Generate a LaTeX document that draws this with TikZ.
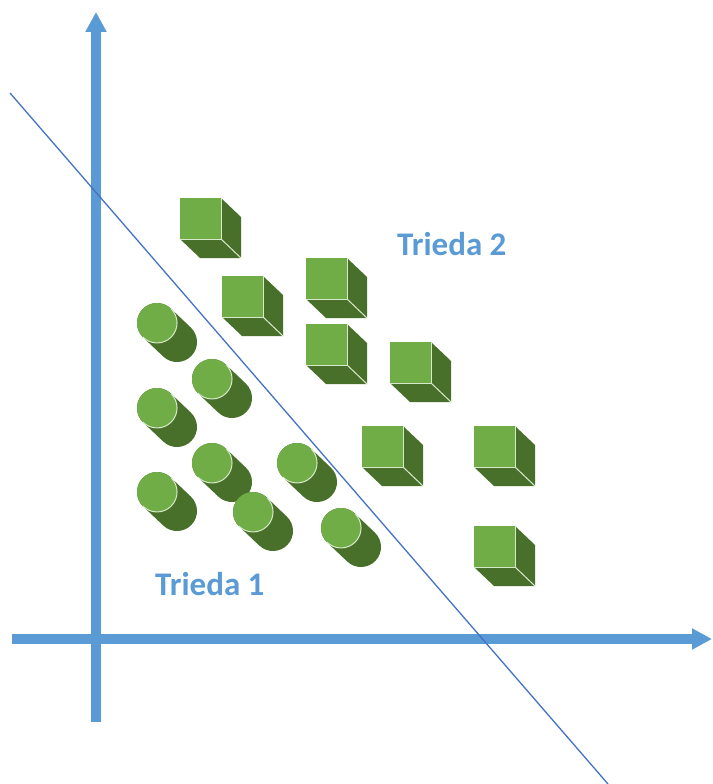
\documentclass[tikz,border=0pt]{standalone}
\usepackage{fontspec}
\setmainfont{Carlito}
\usetikzlibrary{arrows.meta}
\definecolor{axisblue}{HTML}{5B9BD5}
\definecolor{lineblue}{HTML}{4472C4}
\definecolor{lightgreen}{HTML}{70AD47}
\definecolor{darkgreen}{HTML}{49702A}
\definecolor{edgegreen}{HTML}{D8E8CC}
\tikzset{
  axis/.style={draw=axisblue, line width=10pt, -{Triangle[width=20pt,length=20pt]}},
  sep/.style={lineblue, line width=1.3pt},
  label/.style={text=axisblue, font=\fontsize{33}{33}\selectfont\bfseries, anchor=base west, inner sep=0pt},
  cube/.pic={
    \fill[darkgreen] (41,0) -- (61,19) -- (61,60) -- (20,60) -- (0,41) -- (41,41) -- cycle;
    \draw[edgegreen, line width=1pt] (41,41) -- (61,60);
    \fill[lightgreen] (0,0) rectangle (41,41);
    \draw[edgegreen, line width=1pt] (41,0) -- (41,41) -- (0,41);
  },
  cyl/.pic={
    \draw[darkgreen, line width=40pt, line cap=round] (0,0) -- (20,19);
    \fill[lightgreen] (0,0) circle (20);
    \draw[edgegreen, line width=1pt] (-14.1,14.1) arc (135:-45:20);
  }
}
\begin{document}
\begin{tikzpicture}[x=1pt, y=-1pt]
\useasboundingbox (0,0) rectangle (712,784);
% axes
\coordinate (yb) at (96,722);
\coordinate (yt) at (96,12);
\coordinate (xl) at (12,639);
\coordinate (xr) at (712,639);
\draw[axis] (yb) -- (yt);
\draw[axis] (xl) -- (xr);
% cubes (top-left of front face)
\foreach \p in {(180,198),(222,276),(306,258),(306,324),(390,342),(362,426),(474,426),(474,526)}
  \pic at \p {cube};
% cylinders (centre of front face)
\foreach \p in {(157,323),(212,379),(157,408),(212,463),(297,463),(157,492),(253,512),(341,528)}
  \pic at \p {cyl};
% separating line
\coordinate (s1) at (10,93);
\coordinate (s2) at (608,784);
\draw[sep] (s1) -- (s2);
% labels
\node[label] (t1) at (155,595) {Trieda 1};
\node[label] (t2) at (397,255) {Trieda 2};
\end{tikzpicture}
\end{document}
